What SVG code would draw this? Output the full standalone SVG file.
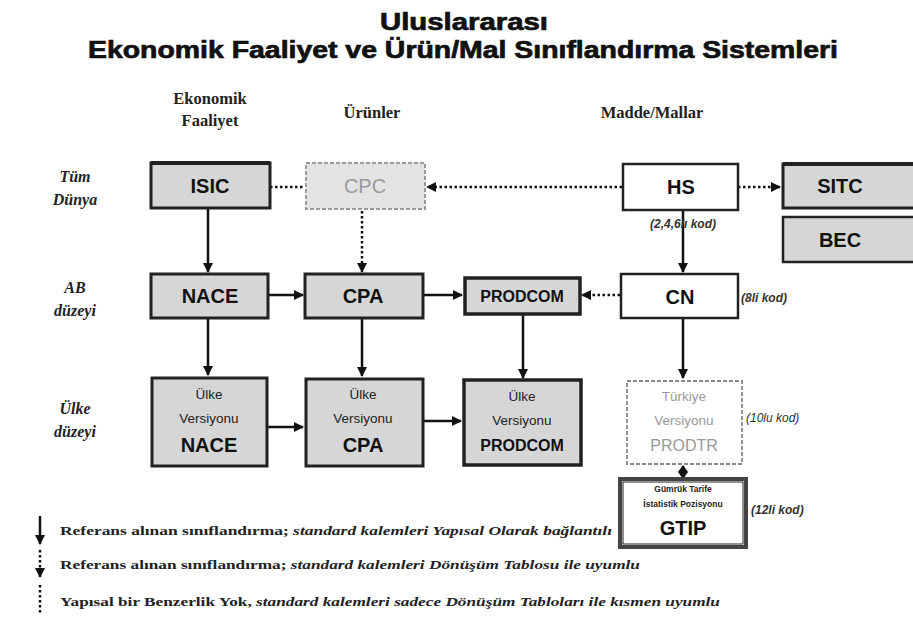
<svg xmlns="http://www.w3.org/2000/svg" width="913" height="621" viewBox="0 0 913 621">
  <style>
    .title { font-family: "Liberation Sans", Arial, sans-serif; font-weight: bold; font-size: 23px; fill: #111; stroke: #111; stroke-width: 0.7; text-anchor: middle; }
    .col { font-family: "Liberation Serif", "Times New Roman", serif; font-weight: bold; font-size: 16.5px; fill: #222; text-anchor: middle; }
    .row { font-family: "Liberation Serif", "Times New Roman", serif; font-weight: bold; font-style: italic; font-size: 16px; fill: #222; text-anchor: middle; }
    .box { fill: #d6d6d6; stroke: #222; stroke-width: 3; }
    .wbox { fill: #ffffff; stroke: #222; stroke-width: 2.5; }
    .gbox { fill: #e4e4e4; stroke: #9a9a9a; stroke-width: 2; stroke-dasharray: 4 2; }
    .dbox { fill: #ffffff; stroke: #888; stroke-width: 1.8; stroke-dasharray: 4 2; }
    .big { font-family: "Liberation Sans", Arial, sans-serif; font-weight: bold; font-size: 20px; fill: #111; text-anchor: middle; }
    .mid { font-family: "Liberation Sans", Arial, sans-serif; font-weight: bold; font-size: 16px; fill: #111; text-anchor: middle; }
    .sm { font-family: "Liberation Sans", Arial, sans-serif; font-size: 13.5px; fill: #222; text-anchor: middle; }
    .tiny { font-family: "Liberation Sans", Arial, sans-serif; font-size: 8.5px; fill: #222; text-anchor: middle; }
    .grey { fill: #999; }
    .note { font-family: "Liberation Sans", Arial, sans-serif; font-style: italic; font-size: 12px; fill: #333; }
    .solid { stroke: #111; stroke-width: 2.5; fill: none; }
    .dot { stroke: #111; stroke-width: 2.5; fill: none; stroke-dasharray: 2.5 2.5; }
    .leg { font-family: "Liberation Serif", "Times New Roman", serif; font-weight: bold; font-size: 12.5px; fill: #222; }
  </style>
  <defs>
    <marker id="ah" viewBox="0 0 10 10" refX="9" refY="5" markerWidth="4" markerHeight="4" orient="auto">
      <path d="M0,0 L10,5 L0,10 z" fill="#111"/>
    </marker>
  </defs>

  <!-- heading -->
  <text class="title" x="464" y="30" textLength="168" lengthAdjust="spacingAndGlyphs">Uluslararası</text>
  <text class="title" x="463" y="58" textLength="750" lengthAdjust="spacingAndGlyphs">Ekonomik Faaliyet ve Ürün/Mal Sınıflandırma Sistemleri</text>

  <!-- column headers -->
  <text class="col" x="210" y="104">Ekonomik</text>
  <text class="col" x="210" y="126">Faaliyet</text>
  <text class="col" x="372" y="118">Ürünler</text>
  <text class="col" x="652" y="118">Madde/Mallar</text>

  <!-- row headers -->
  <text class="row" x="75" y="182">Tüm</text>
  <text class="row" x="75" y="205">Dünya</text>
  <text class="row" x="75" y="293">AB</text>
  <text class="row" x="75" y="316">düzeyi</text>
  <text class="row" x="75" y="414">Ülke</text>
  <text class="row" x="75" y="437">düzeyi</text>

  <!-- connectors -->
  <g id="connectors">
    <line class="dot" x1="270" y1="187" x2="305" y2="187"/>
    <line class="dot" x1="622" y1="187" x2="427" y2="187" marker-end="url(#ah)"/>
    <line class="dot" x1="738" y1="187" x2="780" y2="187" marker-end="url(#ah)"/>
    <line class="solid" x1="208" y1="208" x2="208" y2="272" marker-end="url(#ah)"/>
    <line class="dot" x1="362" y1="211" x2="362" y2="272" marker-end="url(#ah)"/>
    <line class="solid" x1="683" y1="210" x2="683" y2="272" marker-end="url(#ah)"/>
    <line class="solid" x1="268" y1="295" x2="303" y2="295" marker-end="url(#ah)"/>
    <line class="solid" x1="423" y1="295" x2="462" y2="295" marker-end="url(#ah)"/>
    <line class="dot" x1="620" y1="295" x2="582" y2="295" marker-end="url(#ah)"/>
    <line class="solid" x1="208" y1="318" x2="208" y2="375" marker-end="url(#ah)"/>
    <line class="solid" x1="362" y1="318" x2="362" y2="376" marker-end="url(#ah)"/>
    <line class="solid" x1="523" y1="314" x2="523" y2="378" marker-end="url(#ah)"/>
    <line class="solid" x1="683" y1="318" x2="683" y2="378" marker-end="url(#ah)"/>
    <line class="solid" x1="267" y1="427" x2="303" y2="427" marker-end="url(#ah)"/>
    <line class="solid" x1="423" y1="421" x2="461" y2="421" marker-end="url(#ah)"/>
    <!-- two-way link PRODTR / GTIP -->
    <line class="solid" x1="683" y1="466" x2="683" y2="478"/>
    <path d="M678,472 L683,465 L688,472 z" fill="#111"/>
    <path d="M678,472 L683,479 L688,472 z" fill="#111"/>
  </g>

  <!-- world level -->
  <g id="isic">
    <rect class="box" x="151" y="163" width="119" height="45"/>
    <line x1="151" y1="163" x2="270" y2="163" stroke="#222" stroke-width="4"/>
    <text class="big" x="210" y="193">ISIC</text>
  </g>
  <g id="cpc">
    <rect class="gbox" x="306" y="163" width="119" height="46"/>
    <text class="big grey" x="365" y="193" style="font-weight:normal">CPC</text>
  </g>
  <g id="hs">
    <rect class="wbox" x="623" y="164" width="115" height="46"/>
    <text class="big" x="681" y="194">HS</text>
    <text class="note" x="683" y="228" text-anchor="middle" style="font-weight:bold">(2,4,6lı kod)</text>
  </g>
  <g id="sitc">
    <rect class="box" x="783" y="164" width="135" height="44"/>
    <line x1="783" y1="164" x2="913" y2="164" stroke="#222" stroke-width="4"/>
    <text class="big" x="840" y="193">SITC</text>
  </g>
  <g id="bec">
    <rect class="box" x="783" y="217" width="135" height="45" style="stroke-width:2.5"/>
    <text class="big" x="840" y="247">BEC</text>
  </g>

  <!-- EU level -->
  <g id="nace">
    <rect class="box" x="151" y="274" width="117" height="44"/>
    <text class="big" x="210" y="303">NACE</text>
  </g>
  <g id="cpa">
    <rect class="box" x="305" y="274" width="118" height="44"/>
    <text class="big" x="363" y="303">CPA</text>
  </g>
  <g id="prodcom">
    <rect class="box" x="465" y="278" width="115" height="36" style="stroke-width:3.5"/>
    <text class="mid" x="522" y="302">PRODCOM</text>
  </g>
  <g id="cn">
    <rect class="wbox" x="621" y="274" width="117" height="44"/>
    <text class="big" x="680" y="304">CN</text>
    <text class="note" x="741" y="302" style="font-weight:bold">(8li kod)</text>
  </g>

  <!-- country level -->
  <g id="ulke-nace">
    <rect class="box" x="152" y="378" width="115" height="88"/>
    <text class="sm" x="209" y="399">Ülke</text>
    <text class="sm" x="209" y="423">Versiyonu</text>
    <text class="big" x="209" y="452">NACE</text>
  </g>
  <g id="ulke-cpa">
    <rect class="box" x="306" y="379" width="117" height="87"/>
    <text class="sm" x="363" y="399">Ülke</text>
    <text class="sm" x="363" y="423">Versiyonu</text>
    <text class="big" x="363" y="452">CPA</text>
  </g>
  <g id="ulke-prodcom">
    <rect class="box" x="464" y="380" width="117" height="85" style="stroke-width:3.5"/>
    <text class="sm" x="522" y="401">Ülke</text>
    <text class="sm" x="522" y="425">Versiyonu</text>
    <text class="mid" x="522" y="451">PRODCOM</text>
  </g>
  <g id="prodtr">
    <rect class="dbox" x="627" y="381" width="115" height="83"/>
    <text class="sm grey" x="684" y="401">Türkiye</text>
    <text class="sm grey" x="684" y="425">Versiyonu</text>
    <text class="mid grey" x="684" y="451" style="font-weight:normal">PRODTR</text>
    <text class="note grey" x="746" y="422">(10lu kod)</text>
  </g>
  <g id="gtip">
    <rect x="620" y="479" width="126" height="68" fill="#fff" stroke="#444" stroke-width="4"/>
    <rect x="623" y="482" width="120" height="62" fill="none" stroke="#222" stroke-width="1"/>
    <text class="tiny" x="683" y="492" style="font-weight:bold">Gümrük Tarife</text>
    <text class="tiny" x="683" y="507" style="font-weight:bold">İstatistik Pozisyonu</text>
    <text class="big" x="683" y="535">GTIP</text>
    <text class="note" x="751" y="514" style="font-weight:bold">(12li kod)</text>
  </g>

  <!-- legend -->
  <g id="legend">
    <line class="solid" x1="40" y1="516" x2="40" y2="544" marker-end="url(#ah)"/>
    <line class="dot" x1="40" y1="550" x2="40" y2="577" marker-end="url(#ah)"/>
    <line class="dot" x1="40" y1="585" x2="40" y2="614"/>
    <text class="leg" x="60" y="535" textLength="552" lengthAdjust="spacingAndGlyphs">Referans alınan sınıflandırma; <tspan font-style="italic">standard kalemleri Yapısal Olarak bağlantılı</tspan></text>
    <text class="leg" x="60" y="569" textLength="580" lengthAdjust="spacingAndGlyphs">Referans alınan sınıflandırma; <tspan font-style="italic">standard kalemleri Dönüşüm Tablosu ile uyumlu</tspan></text>
    <text class="leg" x="60" y="606" textLength="660" lengthAdjust="spacingAndGlyphs">Yapısal bir Benzerlik Yok, <tspan font-style="italic">standard kalemleri sadece Dönüşüm Tabloları ile kısmen uyumlu</tspan></text>
  </g>
</svg>
